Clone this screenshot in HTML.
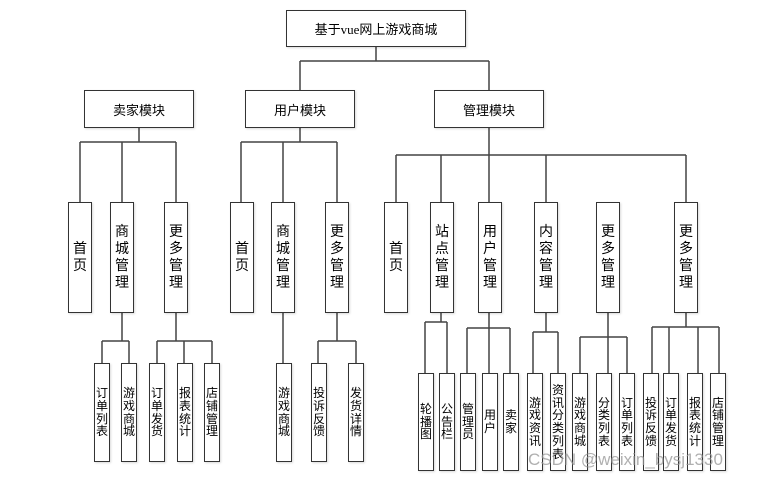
<!DOCTYPE html>
<html><head><meta charset="utf-8"><style>
html,body{margin:0;padding:0;background:#fff;}
#c{position:relative;width:762px;height:482px;overflow:hidden;font-family:"Liberation Serif","Noto Sans CJK SC",sans-serif;color:#000;}
.b{position:absolute;box-sizing:border-box;border:1.5px solid #333;background:#fff;display:flex;align-items:center;justify-content:center;box-shadow:1px 1px 2px rgba(0,0,0,0.15);}
.h{font-size:13px;}
.v2 span{display:block;width:14px;font-size:14px;line-height:17px;text-align:center;word-break:break-all;}
.v3 span{display:block;width:12px;font-size:12px;line-height:12.7px;text-align:center;word-break:break-all;}
.wm{position:absolute;left:528px;top:450px;font-family:"Liberation Sans",sans-serif;font-size:17px;color:rgba(150,150,150,0.75);white-space:nowrap;}
svg{position:absolute;left:0;top:0;}
</style></head><body><div id="c">
<svg width="762" height="482" stroke="#444" stroke-width="1.5" fill="none">
<path d="M376 46V61M300 61H489M300 61V90M489 61V90"/>
<path d="M139 128V142M80 142H176M80 142V202M122 142V202M176 142V202"/>
<path d="M300 128V142M241 142H337M241 142V202M283 142V202M337 142V202"/>
<path d="M489 128V155M396 155H686M396 155V202M441 155V202M489 155V202M546 155V202M686 155V202"/>
<path d="M122 313V341M102 341H129M102 341V363M129 341V363"/>
<path d="M176 313V341M157 341H212M157 341V363M184 341V363M212 341V363"/>
<path d="M283 313V363"/>
<path d="M337 313V341M318 341H356M318 341V363M356 341V363"/>
<path d="M441 313V322M425 322H447M425 322V373M447 322V373"/>
<path d="M489 313V328M467 328H510M467 328V373M489 328V373M510 328V373"/>
<path d="M546 313V332M533 332H558M533 332V373M558 332V373"/>
<path d="M608 313V337M580 337H627M580 337V373M608 337V373M627 337V373"/>
<path d="M686 313V327M652 327H719M652 327V373M669 327V373M698 327V373M719 327V373"/>
</svg>
<div class="b h" style="left:286px;top:10px;width:180px;height:37px;">基于vue网上游戏商城</div>
<div class="b h" style="left:84px;top:90px;width:110px;height:38px;">卖家模块</div>
<div class="b h" style="left:245px;top:90px;width:110px;height:38px;">用户模块</div>
<div class="b h" style="left:434px;top:90px;width:110px;height:38px;">管理模块</div>

<div class="b v2" style="left:68px;top:202px;width:24px;height:111px;"><span>首页</span></div>
<div class="b v2" style="left:110px;top:202px;width:24px;height:111px;"><span>商城管理</span></div>
<div class="b v2" style="left:164px;top:202px;width:24px;height:111px;"><span>更多管理</span></div>
<div class="b v2" style="left:230px;top:202px;width:24px;height:111px;"><span>首页</span></div>
<div class="b v2" style="left:271px;top:202px;width:24px;height:111px;"><span>商城管理</span></div>
<div class="b v2" style="left:325px;top:202px;width:24px;height:111px;"><span>更多管理</span></div>
<div class="b v2" style="left:384px;top:202px;width:24px;height:111px;"><span>首页</span></div>
<div class="b v2" style="left:430px;top:202px;width:24px;height:111px;"><span>站点管理</span></div>
<div class="b v2" style="left:478px;top:202px;width:24px;height:111px;"><span>用户管理</span></div>
<div class="b v2" style="left:534px;top:202px;width:24px;height:111px;"><span>内容管理</span></div>
<div class="b v2" style="left:596px;top:202px;width:24px;height:111px;"><span>更多管理</span></div>
<div class="b v2" style="left:674px;top:202px;width:24px;height:111px;"><span>更多管理</span></div>

<div class="b v3" style="left:94px;top:363px;width:16px;height:99px;"><span>订单列表</span></div>
<div class="b v3" style="left:121px;top:363px;width:16px;height:99px;"><span>游戏商城</span></div>
<div class="b v3" style="left:149px;top:363px;width:16px;height:99px;"><span>订单发货</span></div>
<div class="b v3" style="left:177px;top:363px;width:16px;height:99px;"><span>报表统计</span></div>
<div class="b v3" style="left:204px;top:363px;width:16px;height:99px;"><span>店铺管理</span></div>
<div class="b v3" style="left:276px;top:363px;width:16px;height:99px;"><span>游戏商城</span></div>
<div class="b v3" style="left:311px;top:363px;width:16px;height:99px;"><span>投诉反馈</span></div>
<div class="b v3" style="left:348px;top:363px;width:16px;height:99px;"><span>发货详情</span></div>

<div class="b v3" style="left:418px;top:373px;width:16px;height:98px;"><span>轮播图</span></div>
<div class="b v3" style="left:439px;top:373px;width:16px;height:98px;"><span>公告栏</span></div>
<div class="b v3" style="left:460px;top:373px;width:16px;height:98px;"><span>管理员</span></div>
<div class="b v3" style="left:482px;top:373px;width:16px;height:98px;"><span>用户</span></div>
<div class="b v3" style="left:503px;top:373px;width:16px;height:98px;"><span>卖家</span></div>
<div class="b v3" style="left:527px;top:373px;width:16px;height:98px;"><span>游戏资讯</span></div>
<div class="b v3" style="left:550px;top:373px;width:16px;height:98px;align-items:flex-start;overflow:hidden;"><span style="margin-top:10px;">资讯分类列表</span></div>
<div class="b v3" style="left:572px;top:373px;width:16px;height:98px;"><span>游戏商城</span></div>
<div class="b v3" style="left:596px;top:373px;width:16px;height:98px;"><span>分类列表</span></div>
<div class="b v3" style="left:619px;top:373px;width:16px;height:98px;"><span>订单列表</span></div>
<div class="b v3" style="left:643px;top:373px;width:16px;height:98px;"><span>投诉反馈</span></div>
<div class="b v3" style="left:663px;top:373px;width:16px;height:98px;"><span>订单发货</span></div>
<div class="b v3" style="left:687px;top:373px;width:16px;height:98px;"><span>报表统计</span></div>
<div class="b v3" style="left:710px;top:373px;width:16px;height:98px;"><span>店铺管理</span></div>

<div class="wm">CSDN @weixin_bysj1330</div>
</div></body></html>
